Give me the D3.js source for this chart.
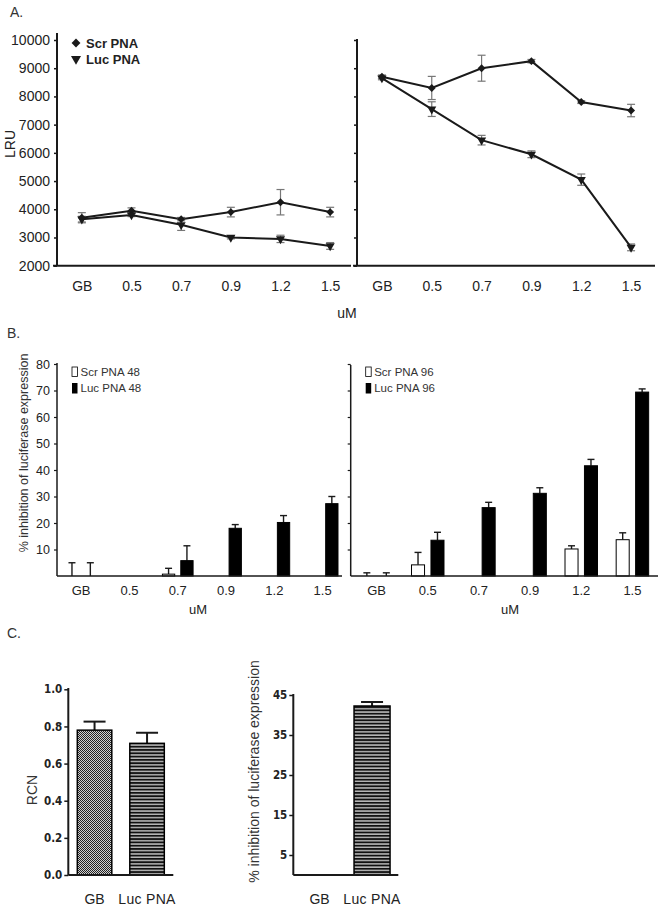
<!DOCTYPE html>
<html>
<head>
<meta charset="utf-8">
<script src="https://cdn.jsdelivr.net/npm/d3@7.9.0/dist/d3.min.js"></script>
<style>
  body { margin: 0; background: #fff; }
  svg { display: block; font-family: "Liberation Sans", Arial, sans-serif; }
  .narrow text { font-family: "Liberation Sans Narrow", "DejaVu Sans Condensed", sans-serif; font-weight: bold; font-stretch: condensed; }
</style>
</head>
<body>
<svg id="fig" width="664" height="907"></svg>
<script>
// ---- data ----
const doses = ['GB', '0.5', '0.7', '0.9', '1.2', '1.5'];

// A. luciferase units (LRU), left = 48 h, right = 96 h
const lruScr48 = [3700, 3950, 3650, 3900, 4250, 3900];
const lruScr48Err = [180, 100, 60, 170, 450, 170];
const lruLuc48 = [3650, 3800, 3450, 3000, 2950, 2700];
const lruLuc48Err = [100, 60, 200, 50, 130, 120];
const lruScr96 = [8700, 8300, 9000, 9250, 7800, 7500];
const lruScr96Err = [60, 410, 460, 60, 50, 220];
const lruLuc96 = [8650, 7550, 6450, 5950, 5050, 2650];
const lruLuc96Err = [60, 260, 170, 120, 200, 120];
const lruTicks = [2000, 3000, 4000, 5000, 6000, 7000, 8000, 9000, 10000];

// B. % inhibition
const inhScr48 = [0, 0, 0.7, 0, 0, 0];
const inhScr48Err = [5, 0, 2.2, 0, 0, 0];
const inhLuc48 = [0, 0, 5.8, 18, 20.2, 27.3];
const inhLuc48Err = [5, 0, 5.6, 1.4, 2.6, 2.7];
const inhScr96 = [0, 4.2, 0, 0, 10.2, 13.7];
const inhScr96Err = [1.2, 4.7, 0, 0, 1.2, 2.6];
const inhLuc96 = [0, 13.5, 25.8, 31.2, 41.6, 69.4];
const inhLuc96Err = [1.2, 3, 2, 2.1, 2.4, 1.2];
const inhTicks = [10, 20, 30, 40, 50, 60, 70, 80];

// C. RCN and % inhibition
const cCats = ['GB', 'Luc PNA'];
const rcn = [0.78, 0.709];
const rcnErr = [0.046, 0.057];
const rcnTicks = [0, 0.2, 0.4, 0.6, 0.8, 1.0];
const inhC = [0, 42.25];
const inhCErr = [0, 1.0];
const inhCTicks = [5, 15, 25, 35, 45];

const svg = d3.select('#fig');
const ink = '#1a1a1a';

// patterns for panel C
const defs = svg.append('defs');
const dots = defs.append('pattern').attr('id', 'dots')
  .attr('width', 2).attr('height', 2).attr('patternUnits', 'userSpaceOnUse');
dots.append('rect').attr('width', 2).attr('height', 2).attr('fill', '#d0d0d0');
dots.append('rect').attr('width', 1).attr('height', 1).attr('fill', '#222');
dots.append('rect').attr('x', 1).attr('y', 1).attr('width', 1).attr('height', 1).attr('fill', '#222');
const stripes = defs.append('pattern').attr('id', 'stripes')
  .attr('width', 4).attr('height', 3.3).attr('patternUnits', 'userSpaceOnUse');
stripes.append('rect').attr('width', 4).attr('height', 3.3).attr('fill', '#b8b8b8');
stripes.append('rect').attr('width', 4).attr('height', 1.8).attr('fill', '#111');

function line(g, x1, y1, x2, y2, w, c) {
  g.append('line').attr('x1', x1).attr('y1', y1).attr('x2', x2).attr('y2', y2)
    .attr('stroke', c || ink).attr('stroke-width', w);
}

function label(g, x, y, txt, size, opts = {}) {
  const t = g.append('text').attr('x', x).attr('y', y).text(txt)
    .attr('font-size', size).attr('fill', opts.fill || '#222')
    .attr('text-anchor', opts.anchor || 'start');
  if (opts.rotate) t.attr('transform', `rotate(-90,${x},${y})`).attr('dominant-baseline', 'middle');
  if (opts.weight) t.attr('font-weight', opts.weight);
  return t;
}

function styleAxis(g, w) {
  g.select('.domain').remove();
  g.selectAll('.tick line').attr('stroke', ink).attr('stroke-width', w);
  g.selectAll('.tick text').attr('fill', '#222');
}

// ---------------- A ----------------
const yA = d3.scaleLinear().domain([2000, 10000]).range([265.7, 40]);

function linePanel(x0, x1, axisTop, xEnd, scr, scrErr, luc, lucErr, showLabels) {
  const g = svg.append('g');
  const x = d3.scalePoint().domain(doses).range([x0, x1]).padding(0.5);

  const ya = g.append('g').attr('transform', `translate(${x0},0)`)
    .call(d3.axisLeft(yA).tickValues(lruTicks).tickSize(3).tickPadding(4)
      .tickFormat(showLabels ? d3.format('d') : ''));
  ya.attr('font-size', 14);
  styleAxis(ya, 1.5);

  const xa = g.append('g').attr('transform', `translate(0,${yA(2000)})`)
    .call(d3.axisBottom(x).tickSize(0).tickPadding(15));
  xa.attr('font-size', 14);
  styleAxis(xa, 0);

  line(g, x0, axisTop, x0, yA(2000), 2);
  line(g, x0 - 4, yA(2000), xEnd, yA(2000), 2);

  [[scr, scrErr], [luc, lucErr]].forEach(([vals, errs]) => {
    vals.forEach((v, i) => {
      const cx = x(doses[i]);
      line(g, cx, yA(v - errs[i]), cx, yA(v + errs[i]), 1.2, '#777');
      line(g, cx - 4, yA(v + errs[i]), cx + 4, yA(v + errs[i]), 1.2, '#777');
      line(g, cx - 4, yA(v - errs[i]), cx + 4, yA(v - errs[i]), 1.2, '#777');
    });
    g.append('path')
      .attr('d', d3.line().x((d, i) => x(doses[i])).y(d => yA(d))(vals))
      .attr('fill', 'none').attr('stroke', ink).attr('stroke-width', 2);
  });

  g.selectAll('.scr').data(scr).join('path')
    .attr('d', d3.symbol(d3.symbolDiamond2, 40))
    .attr('transform', (d, i) => `translate(${x(doses[i])},${yA(d)})`).attr('fill', ink);
  g.selectAll('.luc').data(luc).join('path')
    .attr('d', d3.symbol(d3.symbolTriangle, 36))
    .attr('transform', (d, i) => `translate(${x(doses[i])},${yA(d)}) rotate(180)`).attr('fill', ink);
  return g;
}

linePanel(57, 355, 33, 351, lruScr48, lruScr48Err, lruLuc48, lruLuc48Err, true);
linePanel(357, 656, 39, 655, lruScr96, lruScr96Err, lruLuc96, lruLuc96Err, false);

label(svg, 10, 17, 'A.', 14, { fill: '#333' });
label(svg, 11, 144, 'LRU', 14, { anchor: 'middle', rotate: true });
label(svg, 347, 318, 'uM', 14, { anchor: 'middle' });

// legend A
svg.append('path').attr('d', d3.symbol(d3.symbolDiamond2, 50))
  .attr('transform', 'translate(76,43)').attr('fill', ink);
svg.append('path').attr('d', d3.symbol(d3.symbolTriangle, 44))
  .attr('transform', 'translate(76,59) rotate(180)').attr('fill', ink);
label(svg, 86, 48, 'Scr PNA', 13, { weight: 'bold' });
label(svg, 86, 64, 'Luc PNA', 13, { weight: 'bold' });

// ---------------- B ----------------
const yB = d3.scaleLinear().domain([0, 80]).range([576, 364]);

function barPanel(x0, x1, axisTop, xStart, xEnd, scr, scrErr, luc, lucErr, showLabels, tag) {
  const g = svg.append('g');
  const x = d3.scaleBand().domain(doses).range([x0, x1]);
  const sub = d3.scaleBand().domain(['scr', 'luc']).range([0, x.bandwidth()])
    .paddingInner(0.33).paddingOuter(0.48);

  const ya = g.append('g').attr('transform', `translate(${xStart},0)`)
    .call(d3.axisLeft(yB).tickValues(inhTicks).tickSize(3).tickPadding(4)
      .tickFormat(showLabels ? d3.format('d') : ''));
  ya.attr('font-size', 12.5);
  styleAxis(ya, 1.2);

  const xa = g.append('g').attr('transform', `translate(0,${yB(0)})`)
    .call(d3.axisBottom(x).tickSize(0).tickPadding(10));
  xa.attr('font-size', 13);
  styleAxis(xa, 0);

  [['scr', scr, scrErr, '#fff'], ['luc', luc, lucErr, '#000']].forEach(([k, vals, errs, fill]) => {
    vals.forEach((v, i) => {
      const bx = x(doses[i]) + sub(k);
      const cx = bx + sub.bandwidth() / 2;
      if (errs[i] > 0) {
        line(g, cx, yB(v), cx, yB(v + errs[i]), 1.4);
        line(g, cx - 3.5, yB(v + errs[i]), cx + 3.5, yB(v + errs[i]), 1.4);
      }
      if (v > 0) {
        g.append('rect').attr('x', bx).attr('y', yB(v))
          .attr('width', sub.bandwidth()).attr('height', yB(0) - yB(v))
          .attr('fill', fill).attr('stroke', '#000').attr('stroke-width', 1);
      }
    });
  });

  line(g, xStart, axisTop, xStart, yB(0), 1.5);
  line(g, xStart, yB(0), xEnd, yB(0), 1.5);

  // legend
  const lx = xStart + 15, ly = yB(80) + 3;
  g.append('rect').attr('x', lx).attr('y', ly).attr('width', 5.5).attr('height', 9.5)
    .attr('fill', '#fff').attr('stroke', '#000').attr('stroke-width', 0.8);
  g.append('rect').attr('x', lx).attr('y', ly + 16).attr('width', 5.5).attr('height', 10.5)
    .attr('fill', '#000');
  label(g, lx + 8.5, ly + 9, `Scr PNA ${tag}`, 11.5, { fill: '#333' });
  label(g, lx + 8.5, ly + 25, `Luc PNA ${tag}`, 11.5, { fill: '#333' });
  return g;
}

barPanel(57, 346.8, 363, 57, 342, inhScr48, inhScr48Err, inhLuc48, inhLuc48Err, true, '48');
barPanel(351, 658, 365, 350.7, 658, inhScr96, inhScr96Err, inhLuc96, inhLuc96Err, false, '96');

label(svg, 7, 338, 'B.', 14, { fill: '#333' });
label(svg, 25, 453, '% inhibition of luciferase expression', 12.5, { anchor: 'middle', rotate: true, fill: '#333' });
label(svg, 198, 614, 'uM', 13, { anchor: 'middle' });
label(svg, 510, 614, 'uM', 13, { anchor: 'middle' });

// ---------------- C ----------------
label(svg, 7, 638, 'C.', 14, { fill: '#333' });

function cPanel(x0, x1, top, y, ticks, fmt, vals, errs, bw, fills) {
  const g = svg.append('g').attr('class', 'narrow');
  const x = d3.scalePoint().domain(cCats).range([x0, x1]).padding(0.5);

  const ya = g.append('g').attr('transform', `translate(${x0},0)`)
    .call(d3.axisLeft(y).tickValues(ticks).tickSize(4).tickPadding(2).tickFormat(fmt));
  ya.attr('font-size', 11.5);
  styleAxis(ya, 1.5);

  vals.forEach((v, i) => {
    const cx = x(cCats[i]);
    if (errs[i] > 0) {
      line(g, cx, y(v), cx, y(v + errs[i]), 2);
      line(g, cx - 11, y(v + errs[i]), cx + 11, y(v + errs[i]), 2);
    }
    if (v > 0) {
      g.append('rect').attr('x', cx - bw / 2).attr('y', y(v))
        .attr('width', bw).attr('height', y(0) - y(v))
        .attr('fill', fills[i]).attr('stroke', '#000').attr('stroke-width', 1.5);
    }
  });

  line(g, x0, top, x0, y(0), 2);
  line(g, x0, y(0), x1, y(0), 2);

  cCats.forEach(c => {
    svg.append('text').attr('x', x(c)).attr('y', y(0) + 29).attr('text-anchor', 'middle')
      .attr('font-size', 14).attr('fill', '#222').attr('letter-spacing', c === 'GB' ? 0 : 0.3)
      .text(c);
  });
  return g;
}

const yC1 = d3.scaleLinear().domain([0, 1]).range([875, 689.3]);
cPanel(68.3, 173.3, 688, yC1, rcnTicks, d3.format('.1f'), rcn, rcnErr, 34.5, ['url(#dots)', 'url(#stripes)']);
label(svg, 33, 790, 'RCN', 14, { anchor: 'middle', rotate: true, fill: '#333' });

const yC2 = d3.scaleLinear().domain([0, 45]).range([875, 695]);
cPanel(293.3, 398.3, 694, yC2, inhCTicks, d3.format('d'), inhC, inhCErr, 36, ['url(#dots)', 'url(#stripes)']);
label(svg, 255.5, 771.5, '% inhibition of luciferase expression', 14, { anchor: 'middle', rotate: true, fill: '#333' });
</script>
</body>
</html>
